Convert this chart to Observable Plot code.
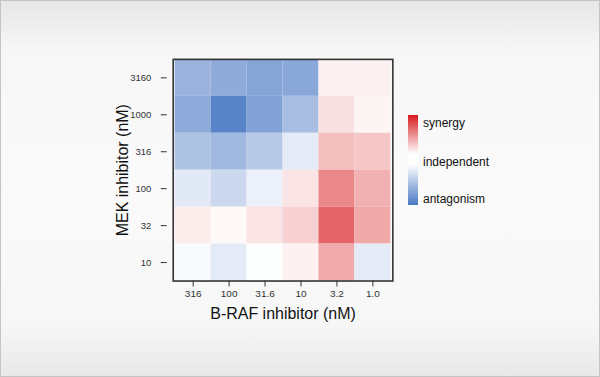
<!DOCTYPE html>
<html>
<head>
<meta charset="utf-8">
<script src="https://cdn.jsdelivr.net/npm/d3@7"></script>
<script src="https://cdn.jsdelivr.net/npm/@observablehq/plot@0.6"></script>
<style>
  html, body { margin: 0; padding: 0; }
  #page {
    position: relative; width: 598px; height: 375px;
    border: 1px solid #c4c4c4;
    background: linear-gradient(#e7e7e7 0%, #f7f7f7 14%, #fafafa 50%, #f7f7f7 86%, #e8e8e8 100%);
    font-family: "Liberation Sans", Arial, sans-serif;
    overflow: hidden;
  }
  #chart { position: absolute; left: -1px; top: -1px; }
  #legend { position: absolute; left: -1px; top: -1px; }
</style>
</head>
<body>
<div id="page"><div id="chart"></div><svg id="legend" width="600" height="377"></svg></div>
<script>
const xLabels = ["316", "100", "31.6", "10", "3.2", "1.0"];
const yLabels = ["3160", "1000", "316", "100", "32", "10"];
const row3160 = [-0.56, -0.62, -0.67, -0.65, 0.065, 0.065];
const row1000 = [-0.63, -0.91, -0.69, -0.48, 0.13, 0.05];
const row316  = [-0.45, -0.52, -0.40, -0.15, 0.28, 0.25];
const row100  = [-0.16, -0.29, -0.11, 0.12, 0.52, 0.34];
const row32   = [0.08, 0.03, 0.12, 0.20, 0.67, 0.38];
const row10   = [-0.04, -0.15, -0.01, 0.06, 0.37, -0.15];
const rows = [row3160, row1000, row316, row100, row32, row10];
const legendLabels = ["synergy", "independent", "antagonism"];

const data = [];
yLabels.forEach((y, i) => xLabels.forEach((x, j) => data.push({x, y, v: rows[i][j]})));

const chart = Plot.plot({
  width: 600, height: 377,
  marginLeft: 173, marginRight: 207, marginTop: 59, marginBottom: 96,
  style: {background: "transparent", fontFamily: "Liberation Sans, Arial, sans-serif", color: "#222"},
  x: {domain: xLabels, padding: 0, label: null},
  y: {domain: yLabels, padding: 0, label: null},
  color: {type: "linear", domain: [-1, 0, 1], range: ["#4a78c4", "#ffffff", "#d7191c"], interpolate: "rgb"},
  marks: [
    Plot.cell(data, {x: "x", y: "y", fill: "v", inset: 0}),
    Plot.frame({stroke: "#333", strokeWidth: 1.6}),
    Plot.axisX({tickSize: 6, tickPadding: 3, fontSize: 10, stroke: "#333", fill: "#333"}),
    Plot.axisY({tickSize: 6, tickPadding: 10, fontSize: 9.5, dx: -6, stroke: "#333", fill: "#333", fontFamily: "Liberation Sans Narrow, Liberation Sans, Arial, sans-serif"}),
    Plot.text(["B-RAF inhibitor (nM)"], {frameAnchor: "bottom", dy: 33, fontSize: 16, fill: "#111", lineAnchor: "middle"}),
    Plot.text(["MEK inhibitor (nM)"], {frameAnchor: "left", dx: -50, rotate: -90, fontSize: 16, fill: "#111", textAnchor: "middle"})
  ]
});
document.getElementById("chart").appendChild(chart);

// legend
const svg = d3.select("#legend");
const grad = svg.append("defs").append("linearGradient").attr("id", "lg").attr("x1", 0).attr("y1", 0).attr("x2", 0).attr("y2", 1);
[[0, "#d7191c"], [0.43, "#ffffff"], [0.55, "#ffffff"], [1, "#4a78c4"]].forEach(([o, c]) =>
  grad.append("stop").attr("offset", o).attr("stop-color", c));
svg.append("rect").attr("x", 408).attr("y", 115).attr("width", 10).attr("height", 90).attr("fill", "url(#lg)");
const ly = [123, 162, 199];
legendLabels.forEach((t, i) => svg.append("text").attr("x", 423).attr("y", ly[i]).attr("dy", "0.35em")
  .attr("font-size", 12).attr("fill", "#111").attr("font-family", "Liberation Sans, Arial, sans-serif").text(t));
</script>
</body>
</html>
